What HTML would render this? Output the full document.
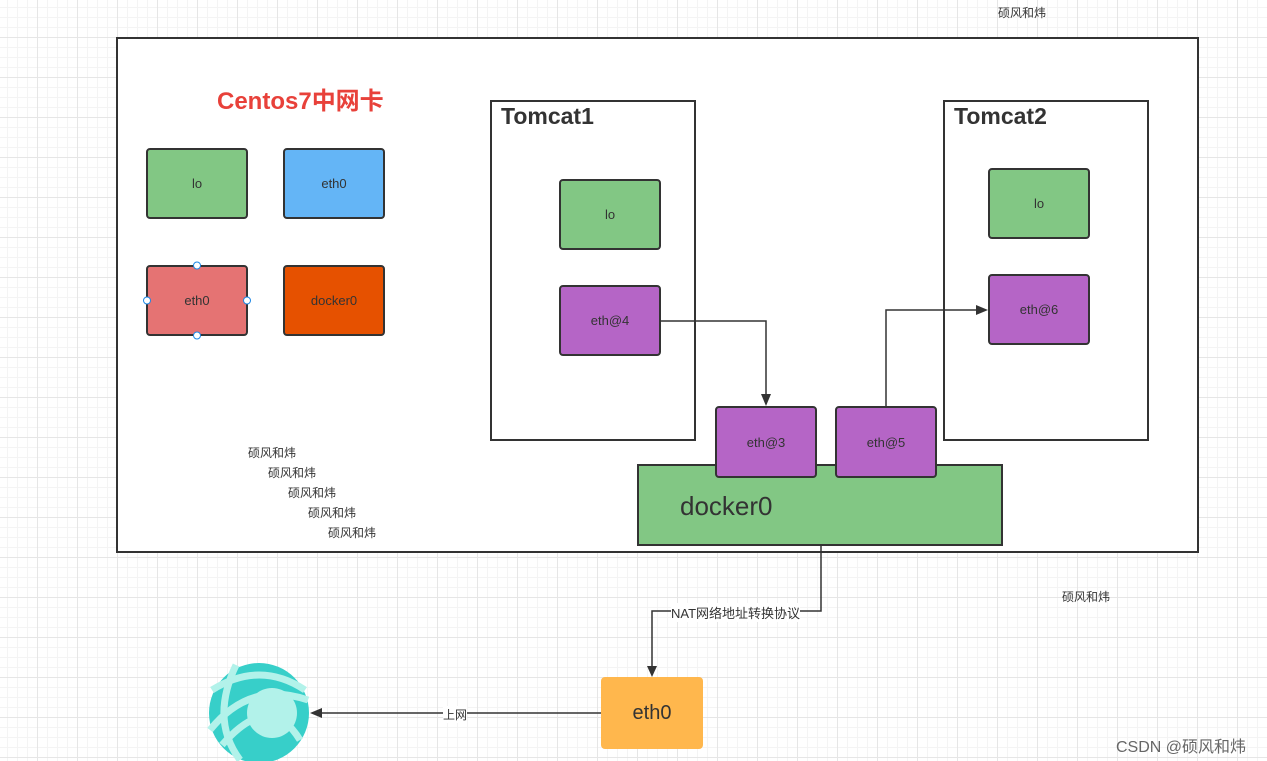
<!DOCTYPE html>
<html><head><meta charset="utf-8"><style>
body{margin:0;width:1267px;height:761px;overflow:hidden;background:#fff;
background-image:linear-gradient(#e6e6e6 1px,transparent 1px),linear-gradient(90deg,#e6e6e6 1px,transparent 1px),linear-gradient(#f4f4f4 1px,transparent 1px),linear-gradient(90deg,#f4f4f4 1px,transparent 1px);
background-size:40px 40px,40px 40px,10px 10px,10px 10px;background-position:-3px -3px;
font-family:"Liberation Sans","Noto Sans CJK SC",sans-serif;position:relative}
.a{position:absolute;box-sizing:border-box}
.n{position:absolute;box-sizing:border-box;border:2px solid #333;border-radius:4px;display:flex;align-items:center;justify-content:center;font-size:13px;color:#333}
.t{position:absolute;font-size:12px;color:#333;white-space:nowrap}
</style></head><body>
<div class="a" style="left:116px;top:37px;width:1083px;height:516px;border:2px solid #333;background:#fff"></div>
<div class="t" style="left:998px;top:4px">硕风和炜</div>
<div class="t" style="left:217px;top:81px;font-size:24px;font-weight:bold;color:#e8413a">Centos7中网卡</div>
<div class="n" style="left:146px;top:148px;width:102px;height:71px;background:#82c784">lo</div>
<div class="n" style="left:283px;top:148px;width:102px;height:71px;background:#64b5f6">eth0</div>
<div class="n" style="left:146px;top:265px;width:102px;height:71px;background:#e57373">eth0</div>
<div class="n" style="left:283px;top:265px;width:102px;height:71px;background:#e65100">docker0</div>
<svg class="a" style="left:0;top:0" width="1267" height="761">
<g fill="#fff" stroke="#1e88e5" stroke-width="1"><circle cx="197" cy="265.5" r="3.5"/><circle cx="197" cy="335.5" r="3.5"/><circle cx="147" cy="300.5" r="3.5"/><circle cx="247" cy="300.5" r="3.5"/></g>
</svg>
<div class="a" style="left:490px;top:100px;width:206px;height:341px;border:2px solid #333;background:#fff"></div>
<div class="t" style="left:501px;top:103px;font-size:23px;font-weight:bold">Tomcat1</div>
<div class="a" style="left:943px;top:100px;width:206px;height:341px;border:2px solid #333;background:#fff"></div>
<div class="t" style="left:954px;top:103px;font-size:23px;font-weight:bold">Tomcat2</div>
<div class="n" style="left:559px;top:179px;width:102px;height:71px;background:#82c784">lo</div>
<div class="n" style="left:559px;top:285px;width:102px;height:71px;background:#b565c6">eth@4</div>
<div class="n" style="left:988px;top:168px;width:102px;height:71px;background:#82c784">lo</div>
<div class="n" style="left:988px;top:274px;width:102px;height:71px;background:#b565c6">eth@6</div>
<div class="a" style="left:637px;top:464px;width:366px;height:82px;border:2px solid #333;background:#82c784;font-size:26px;color:#333;padding:25px 0 0 41px">docker0</div>
<div class="n" style="left:715px;top:406px;width:102px;height:72px;background:#b565c6">eth@3</div>
<div class="n" style="left:835px;top:406px;width:102px;height:72px;background:#b565c6">eth@5</div>
<div class="t" style="left:248px;top:444px">硕风和炜</div>
<div class="t" style="left:268px;top:464px">硕风和炜</div>
<div class="t" style="left:288px;top:484px">硕风和炜</div>
<div class="t" style="left:308px;top:504px">硕风和炜</div>
<div class="t" style="left:328px;top:524px">硕风和炜</div>
<div class="t" style="left:1062px;top:588px">硕风和炜</div>
<div class="n" style="left:601px;top:677px;width:102px;height:72px;background:#ffb74d;border:none;font-size:20px">eth0</div>
<svg class="a" style="left:0;top:0" width="1267" height="761">
<g fill="none" stroke="#333" stroke-width="1.5">
<polyline points="661,321 766,321 766,396"/>
<polyline points="886,406 886,310 978,310"/>
<polyline points="821,546 821,611 652,611 652,668"/>
<line x1="601" y1="713" x2="320" y2="713"/>
</g>
<g fill="#333">
<polygon points="761,394 771,394 766,406"/>
<polygon points="976,305 976,315 988,310"/>
<polygon points="647,666 657,666 652,677"/>
<polygon points="322,708 322,718 310,713"/>
</g>
<circle cx="259" cy="713" r="50" fill="#37cfc9"/>
<g fill="none" stroke="#b2f2ea" stroke-width="7">
<path d="M236,665 Q210,720 240,760"/>
<path d="M212,690 Q260,660 305,690"/>
<path d="M210,730 Q250,680 308,700"/>
<path d="M222,745 Q270,690 300,740"/>
</g>
<circle cx="272" cy="713" r="25" fill="#b2f2ea"/>
</svg>
<div class="t" style="left:671px;top:603px;background:#fff;font-size:13px">NAT网络地址转换协议</div>
<div class="t" style="left:443px;top:706px;background:#fff">上网</div>
<div class="t" style="left:1116px;top:733px;font-size:16px;color:#666">CSDN @硕风和炜</div>
</body></html>
